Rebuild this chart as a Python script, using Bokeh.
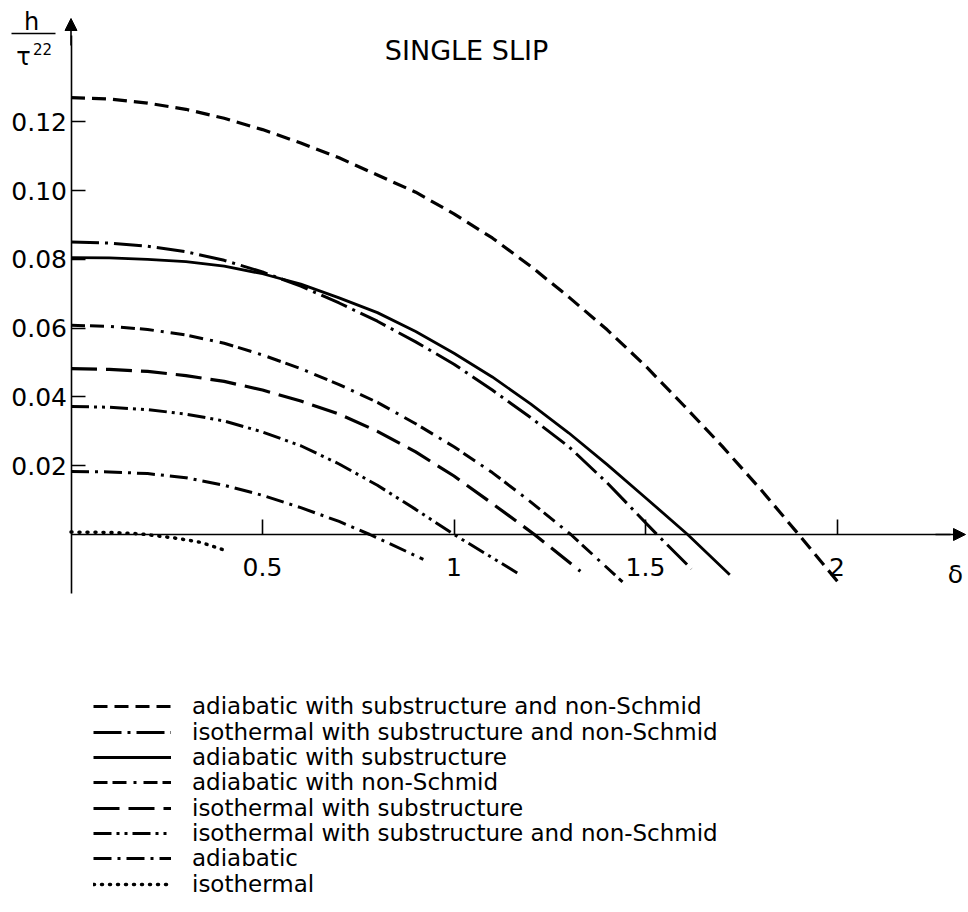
from bokeh.plotting import figure
from bokeh.models import (Range1d, LinearAxis, FixedTicker, Arrow, NormalHead,
                          Label, Legend, LegendItem)
from bokeh.embed import file_html
from bokeh.resources import INLINE

# ---------------- data ----------------
d_adi_sub_ns = [0, 0.1, 0.2, 0.3, 0.4, 0.5, 0.6, 0.7, 0.8, 0.9, 1.0, 1.1, 1.2, 1.3, 1.4, 1.5, 1.6, 1.7, 1.8, 1.9, 2.01]
h_adi_sub_ns = [0.1270, 0.1266, 0.1254, 0.1236, 0.1210, 0.1177, 0.1138, 0.1095, 0.1045, 0.0995, 0.0932, 0.0862,
                0.0780, 0.0690, 0.0595, 0.0490, 0.0375, 0.0257, 0.0132, 0.0, -0.0148]

d_iso_sub_ns = [0, 0.1, 0.2, 0.3, 0.4, 0.5, 0.6, 0.7, 0.8, 0.9, 1.0, 1.1, 1.2, 1.3, 1.4, 1.53, 1.62]
h_iso_sub_ns = [0.0850, 0.0847, 0.0838, 0.0822, 0.0797, 0.0763, 0.0722, 0.0673, 0.0620, 0.0560, 0.0495, 0.0420,
                0.0340, 0.0255, 0.0150, 0.0, -0.0100]

d_adi_sub = [0, 0.1, 0.2, 0.3, 0.4, 0.5, 0.6, 0.7, 0.8, 0.9, 1.0, 1.1, 1.2, 1.3, 1.4, 1.5, 1.61, 1.72]
h_adi_sub = [0.0805, 0.0804, 0.0800, 0.0793, 0.0780, 0.0758, 0.0728, 0.0688, 0.0645, 0.0590, 0.0527, 0.0458,
             0.0380, 0.0295, 0.0203, 0.0107, 0.0, -0.0117]

d_adi_ns = [0, 0.1, 0.2, 0.3, 0.4, 0.5, 0.6, 0.7, 0.8, 0.9, 1.0, 1.1, 1.2, 1.305, 1.44]
h_adi_ns = [0.0608, 0.0605, 0.0596, 0.0580, 0.0556, 0.0522, 0.0482, 0.0436, 0.0384, 0.0322, 0.0255, 0.0180,
            0.0095, 0.0, -0.0138]

d_iso_sub = [0, 0.1, 0.2, 0.3, 0.4, 0.5, 0.6, 0.7, 0.8, 0.9, 1.0, 1.1, 1.21, 1.33]
h_iso_sub = [0.0482, 0.0480, 0.0474, 0.0462, 0.0445, 0.0420, 0.0388, 0.0350, 0.0300, 0.0240, 0.0170, 0.0090,
             0.0, -0.0107]

d_iso_sub_ns2 = [0, 0.1, 0.2, 0.3, 0.4, 0.5, 0.6, 0.7, 0.8, 0.9, 1.0, 1.17]
h_iso_sub_ns2 = [0.0372, 0.0370, 0.0363, 0.0350, 0.0330, 0.0298, 0.0258, 0.0205, 0.0143, 0.0073, 0.0, -0.0115]

d_adi = [0, 0.1, 0.2, 0.3, 0.4, 0.5, 0.6, 0.7, 0.78, 0.92]
h_adi = [0.0183, 0.0182, 0.0177, 0.0165, 0.0143, 0.0114, 0.0078, 0.0038, 0.0, -0.0072]

d_iso = [0, 0.1, 0.18, 0.27, 0.34, 0.41]
h_iso = [0.0007, 0.0006, 0.0002, -0.0010, -0.0023, -0.0049]

series_labels = [
    "adiabatic with substructure and non-Schmid",
    "isothermal with substructure and non-Schmid",
    "adiabatic with substructure",
    "adiabatic with non-Schmid",
    "isothermal with substructure",
    "isothermal with substructure and non-Schmid",
    "adiabatic",
    "isothermal",
]

x_ticks = [0.5, 1.0, 1.5, 2.0]
x_tick_labels = ["0.5", "1", "1.5", "2"]
y_ticks = [0.02, 0.04, 0.06, 0.08, 0.10, 0.12]
y_tick_labels = ["0.02", "0.04", "0.06", "0.08", "0.10", "0.12"]

title_text = "SINGLE SLIP"
x_label = "δ"

# ---------------- layout ----------------
W, H = 968, 912
X0, Y0 = 70.5, 534.0      # canvas pixel of the origin
SX, SY = 383.0, 3440.0    # pixels per data unit

def dx(cx):
    return (cx - X0) / SX

def dy(cy):
    return (Y0 - cy) / SY

p = figure(width=W, height=H,
           x_range=Range1d(dx(0), dx(W)), y_range=Range1d(dy(H), dy(0)),
           x_axis_type=None, y_axis_type=None,
           toolbar_location=None, output_backend="svg",
           min_border=0, title=None, outline_line_color=None)
p.background_fill_color = "white"
p.border_fill_color = "white"

FONT = "DejaVu Sans"

xaxis = LinearAxis(fixed_location=0, ticker=FixedTicker(ticks=x_ticks),
                   major_label_overrides={t: l for t, l in zip(x_ticks, x_tick_labels)},
                   bounds=(0, dx(950)))
xaxis.major_tick_in = 15
xaxis.major_tick_out = 0
xaxis.minor_tick_in = 0
xaxis.minor_tick_out = 0
xaxis.major_label_standoff = 23
xaxis.axis_line_width = 1.6
xaxis.major_tick_line_width = 1.6
xaxis.major_label_text_font = FONT
xaxis.major_label_text_font_size = "25px"
xaxis.major_label_text_color = "black"
p.add_layout(xaxis, "below")

yaxis = LinearAxis(fixed_location=0, ticker=FixedTicker(ticks=y_ticks),
                   major_label_overrides={t: l for t, l in zip(y_ticks, y_tick_labels)},
                   bounds=(dy(593), dy(35)))
yaxis.major_tick_in = 14
yaxis.major_tick_out = 0
yaxis.minor_tick_in = 0
yaxis.minor_tick_out = 0
yaxis.major_label_standoff = 4
yaxis.axis_line_width = 1.6
yaxis.major_tick_line_width = 1.6
yaxis.major_label_text_font = FONT
yaxis.major_label_text_font_size = "25px"
yaxis.major_label_text_color = "black"
p.add_layout(yaxis, "left")

# axis arrows
p.add_layout(Arrow(end=NormalHead(size=12, fill_color="black", line_color="black"),
                   x_start=0, y_start=dy(45), x_end=0, y_end=dy(18),
                   line_width=1.6, line_color="black"))
p.add_layout(Arrow(end=NormalHead(size=12, fill_color="black", line_color="black"),
                   x_start=dx(935), y_start=0, x_end=dx(965), y_end=0,
                   line_width=1.6, line_color="black"))

# curves
styles = [
    (d_adi_sub_ns, h_adi_sub_ns, "14 7", 3.2, "butt"),
    (d_iso_sub_ns, h_iso_sub_ns, "28 6 3 6", 3.0, "butt"),
    (d_adi_sub, h_adi_sub, "solid", 2.8, "butt"),
    (d_adi_ns, h_adi_ns, "14 5 14 7 3 7", 3.0, "butt"),
    (d_iso_sub, h_iso_sub, "26 9", 3.2, "butt"),
    (d_iso_sub_ns2, h_iso_sub_ns2, "18 5 3 5 3 5", 3.0, "butt"),
    (d_adi, h_adi, "18 6 3 6", 3.0, "butt"),
    (d_iso, h_iso, "1 7", 3.5, "round"),
]
renderers = []
for xs, ys, dash, lw, cap in styles:
    r = p.line(xs, ys, line_color="black", line_width=lw, line_dash=dash, line_cap=cap)
    renderers.append(r)

# legend: one row per Legend so the row pitch matches the original
row_y = [707, 732.5, 758, 783, 808.5, 834, 859, 884.5]
ROW_H = 24
for lab, r, cy in zip(series_labels, renderers, row_y):
    leg = Legend(items=[LegendItem(label=lab, renderers=[r])],
                 location=(93, H - (cy + ROW_H / 2)),
                 padding=0, margin=0, spacing=0,
                 glyph_width=78, glyph_height=ROW_H, label_height=ROW_H,
                 label_standoff=21,
                 label_text_font=FONT, label_text_font_size="23px",
                 label_text_color="black",
                 background_fill_alpha=0, border_line_color=None)
    p.add_layout(leg)

# texts
p.add_layout(Label(x=dx(466), y=dy(50), text=title_text, text_font=FONT, text_color="black",
                   text_font_size="27px", text_align="center", text_baseline="middle"))
p.add_layout(Label(x=dx(955), y=dy(574), text=x_label, text_font=FONT, text_color="black",
                   text_font_size="25px", text_align="center", text_baseline="middle"))
# y-axis quantity  h / tau^22
p.add_layout(Label(x=dx(31), y=dy(21), text="h", text_font=FONT, text_color="black",
                   text_font_size="24px", text_align="center", text_baseline="middle"))
p.add_layout(Arrow(start=None, end=None, x_start=dx(11), y_start=dy(33),
                   x_end=dx(55), y_end=dy(33), line_width=1.5, line_color="black"))
p.add_layout(Label(x=dx(23), y=dy(56), text="τ", text_font=FONT, text_color="black",
                   text_font_size="24px", text_align="center", text_baseline="middle"))
p.add_layout(Label(x=dx(42), y=dy(48), text="22", text_font=FONT, text_color="black",
                   text_font_size="15px", text_align="center", text_baseline="middle"))

open("out.html", "w").write(file_html(p, INLINE))
